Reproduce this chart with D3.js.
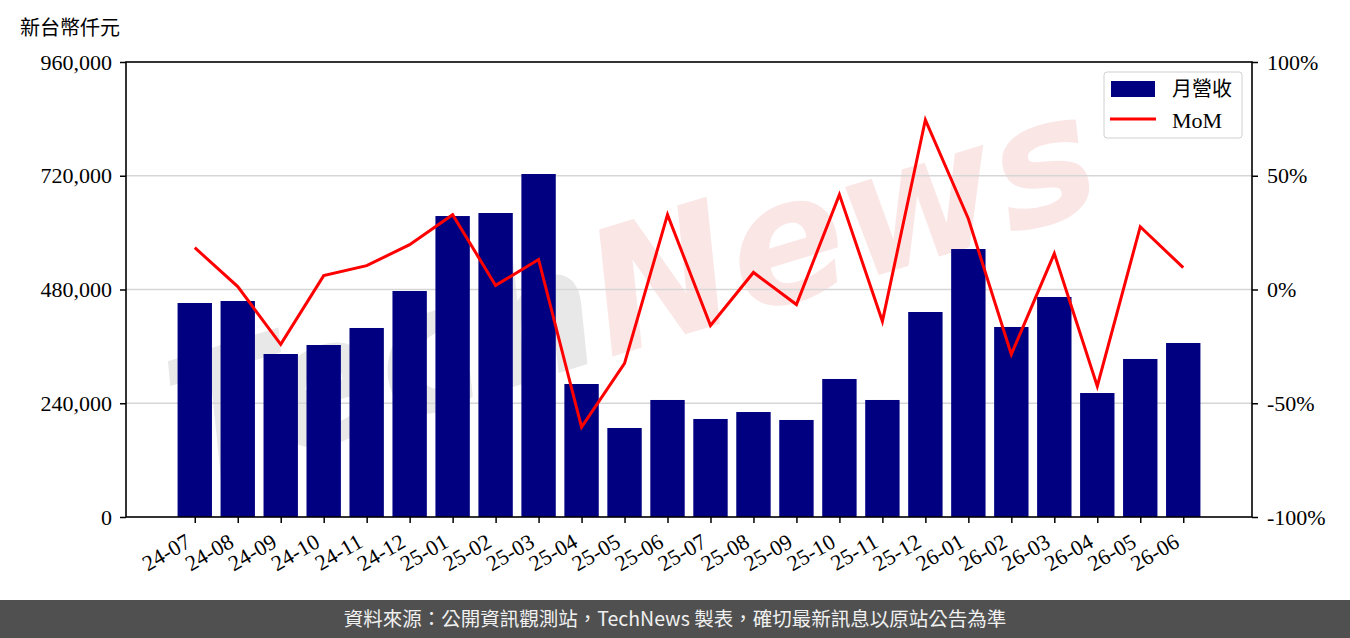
<!DOCTYPE html>
<html>
<head>
<meta charset="utf-8">
<script src="https://cdn.jsdelivr.net/npm/d3@7"></script>
<style>
  body { margin: 0; background: #fff; }
  svg text { font-family: "Liberation Serif", "Noto Sans CJK TC", serif; }
</style>
</head>
<body>
<div id="container"></div>
<script>
var WIDTH = 1350,
	HEIGHT = 638,
	LEFT = 126,
	RIGHT = 1252,
	TOP = 62,
	BOTTOM = 517;

var months = ['24-07','24-08','24-09','24-10','24-11','24-12','25-01','25-02','25-03','25-04','25-05','25-06',
	'25-07','25-08','25-09','25-10','25-11','25-12','26-01','26-02','26-03','26-04','26-05','26-06'];
var revenue = [451500, 455700, 343900, 362900, 398800, 476800, 635000, 641400, 723700, 280600, 187800, 246900,
	206800, 221500, 204700, 291200, 246900, 432500, 565400, 400900, 464200, 261600, 333400, 367100];
var mom = [18.4, 1.3, -24.1, 6.1, 10.5, 19.7, 32.9, 1.8, 13.2, -60.5, -32.5, 32.9,
	-15.8, 7.5, -6.6, 41.7, -14.0, 74.6, 31.1, -28.5, 15.8, -42.5, 27.6, 9.6];
var leftTicks = [0, 240000, 480000, 720000, 960000];
var rightTicks = [-100, -50, 0, 50, 100];

var xScale = d3.scaleLinear().domain([-1.6, 24.6]).range([LEFT, RIGHT]);
var yLeft = d3.scaleLinear().domain([0, 960000]).range([BOTTOM, TOP]);
var yRight = d3.scaleLinear().domain([-100, 100]).range([BOTTOM, TOP]);
var step = xScale(1) - xScale(0);
var barW = step * 0.8;

var translate = function (x, y) {
	return "translate(" + x + "," + y + ")";
};

var svg = d3.select('#container')
	.append('svg')
	.attr('width', WIDTH)
	.attr('height', HEIGHT);

// watermark (behind the marks)
var wm = svg.append('text')
	.attr('transform', translate(650, 345) + ' rotate(-17)')
	.attr('text-anchor', 'middle')
	.style('font-family', '"DejaVu Sans", sans-serif')
	.style('font-style', 'italic')
	.style('font-weight', 'bold')
	.style('font-size', '172px');
wm.append('tspan').attr('fill', '#e8e8e8').text('Tech');
wm.append('tspan').attr('fill', '#fbe6e6').text('News');

// grid
svg.append('g').selectAll('line').data(leftTicks.slice(1, 4)).enter()
	.append('line')
	.attr('x1', LEFT).attr('x2', RIGHT)
	.attr('y1', function(d){ return yLeft(d); })
	.attr('y2', function(d){ return yLeft(d); })
	.attr('stroke', '#d6d6d6')
	.attr('stroke-width', 1.5);

// bars
svg.append('g').selectAll('rect').data(revenue).enter()
	.append('rect')
	.attr('x', function(d, i){ return xScale(i) - barW / 2; })
	.attr('y', function(d){ return yLeft(d); })
	.attr('width', barW)
	.attr('height', function(d){ return BOTTOM - yLeft(d); })
	.attr('fill', '#000080');

// MoM line
var line = d3.line()
	.x(function(d, i){ return xScale(i); })
	.y(function(d){ return yRight(d); });
svg.append('path')
	.attr('d', line(mom))
	.attr('fill', 'none')
	.attr('stroke', '#ff0000')
	.attr('stroke-width', 3);

// axes
var xAxis = d3.axisBottom(xScale).tickValues(d3.range(months.length))
	.tickSize(6).tickFormat(function(d){ return months[d]; });
var gx = svg.append('g').attr('transform', translate(0, BOTTOM)).call(xAxis);
gx.selectAll('text')
	.attr('text-anchor', 'end')
	.attr('x', 0).attr('y', 0).attr('dy', 0)
	.attr('transform', 'translate(-3,29) rotate(-30)')
	.style('font-size', '22px');

var gl = svg.append('g').attr('transform', translate(LEFT, 0))
	.call(d3.axisLeft(yLeft).tickValues(leftTicks).tickSize(6).tickFormat(d3.format(',')));
gl.selectAll('text').style('font-size', '22px').attr('x', -14);

var gr = svg.append('g').attr('transform', translate(RIGHT, 0))
	.call(d3.axisRight(yRight).tickValues(rightTicks).tickSize(6).tickFormat(function(d){ return d + '%'; }));
gr.selectAll('text').style('font-size', '22px').attr('x', 15);

svg.selectAll('.domain').remove();
svg.selectAll('.tick line').attr('stroke', '#000').attr('stroke-width', 1.5);
svg.append('rect')
	.attr('x', LEFT).attr('y', TOP)
	.attr('width', RIGHT - LEFT).attr('height', BOTTOM - TOP)
	.attr('fill', 'none')
	.attr('stroke', '#000')
	.attr('stroke-width', 1.6);
svg.selectAll('.tick text').attr('fill', '#000');

// unit label
svg.append('text')
	.attr('x', 20).attr('y', 35)
	.style('font-family', '"Noto Sans CJK TC", sans-serif')
	.style('font-size', '20px')
	.attr('fill', '#000')
	.text('新台幣仟元');

// legend
var lg = svg.append('g').attr('transform', translate(1104, 72));
lg.append('rect')
	.attr('width', 138).attr('height', 66).attr('rx', 3)
	.attr('fill', '#fff').attr('fill-opacity', 0.8)
	.attr('stroke', '#d0d0d0').attr('stroke-width', 1);
lg.append('rect')
	.attr('x', 7).attr('y', 9).attr('width', 44).attr('height', 16)
	.attr('fill', '#000080');
lg.append('line')
	.attr('x1', 6).attr('x2', 52).attr('y1', 47).attr('y2', 47)
	.attr('stroke', '#ff0000').attr('stroke-width', 3);
lg.append('text')
	.attr('x', 68).attr('y', 24)
	.style('font-family', '"Noto Sans CJK TC", serif')
	.style('font-size', '20px')
	.text('月營收');
lg.append('text')
	.attr('x', 68).attr('y', 56)
	.style('font-size', '22px')
	.text('MoM');

// footer
svg.append('rect')
	.attr('x', 0).attr('y', 600).attr('width', WIDTH).attr('height', 38)
	.attr('fill', '#505050');
svg.append('text')
	.attr('x', WIDTH / 2).attr('y', 626)
	.attr('text-anchor', 'middle')
	.style('font-family', '"Noto Sans CJK TC", sans-serif')
	.style('font-size', '19.5px')
	.attr('fill', '#f0f0f0')
	.text('資料來源：公開資訊觀測站，TechNews 製表，確切最新訊息以原站公告為準');
</script>
</body>
</html>
